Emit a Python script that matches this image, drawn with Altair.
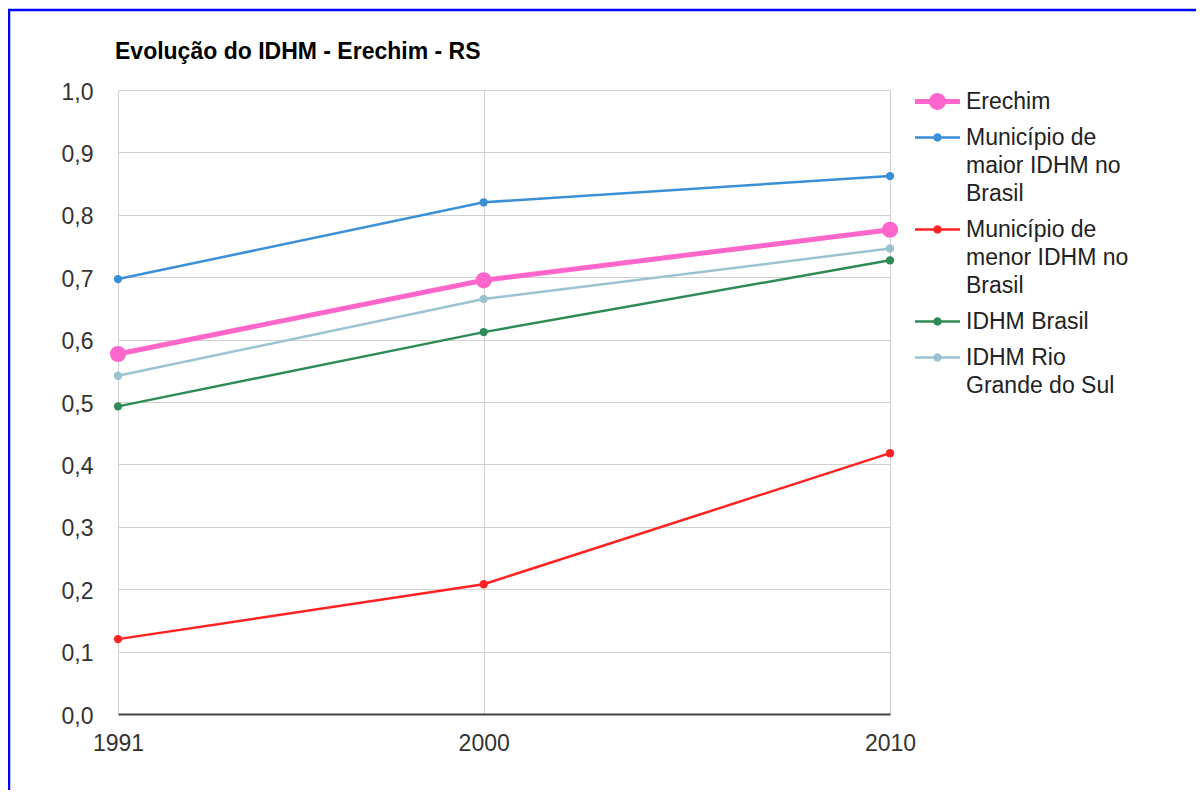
import altair as alt
import pandas as pd

# ---------------- data ----------------
YEARS = [1991, 2000, 2010]
SERIES = [
    "Erechim",
    "Município de maior IDHM no Brasil",
    "Município de menor IDHM no Brasil",
    "IDHM Brasil",
    "IDHM Rio Grande do Sul",
]
LEGEND_LINES = [
    ["Erechim"],
    ["Município de", "maior IDHM no", "Brasil"],
    ["Município de", "menor IDHM no", "Brasil"],
    ["IDHM Brasil"],
    ["IDHM Rio", "Grande do Sul"],
]
ERECHIM = [0.577, 0.695, 0.776]
MAIOR = [0.697, 0.820, 0.862]
MENOR = [0.120, 0.208, 0.418]
BRASIL = [0.493, 0.612, 0.727]
RIO_GRANDE_DO_SUL = [0.542, 0.665, 0.746]
COLORS = ["#ff66cc", "#3a8fd6", "#ff2222", "#2e8b57", "#9bc3cf"]
Y_TICKS = [0.0, 0.1, 0.2, 0.3, 0.4, 0.5, 0.6, 0.7, 0.8, 0.9, 1.0]
X_TICKS = [1991, 2000, 2010]
TITLE = "Evolução do IDHM - Erechim - RS"

VALUES = [ERECHIM, MAIOR, MENOR, BRASIL, RIO_GRANDE_DO_SUL]
rows = []
for name, vals in zip(SERIES, VALUES):
    for yr, v in zip(YEARS, vals):
        rows.append({"ano": yr, "idhm": v, "series": name})
df = pd.DataFrame(rows)

FONT = "Liberation Sans, Arial, sans-serif"
W, H = 772, 624
LINE_H = 28
SYM_PX = 45.0
U = SYM_PX / 2.0  # pixels per path unit


def circle(r, cy):
    k = 0.5523 * r
    return (
        f"M{r:.4f},{cy:.4f}"
        f"C{r:.4f},{cy + k:.4f} {k:.4f},{cy + r:.4f} 0,{cy + r:.4f}"
        f"C{-k:.4f},{cy + r:.4f} {-r:.4f},{cy + k:.4f} {-r:.4f},{cy:.4f}"
        f"C{-r:.4f},{cy - k:.4f} {-k:.4f},{cy - r:.4f} 0,{cy - r:.4f}"
        f"C{k:.4f},{cy - r:.4f} {r:.4f},{cy - k:.4f} {r:.4f},{cy:.4f}Z"
    )


def legend_symbol(thick_px, radius_px):
    h = thick_px / 2.0 / U
    r = radius_px / U
    rect = f"M-1,{-h:.4f}H1V{h:.4f}H-1Z"
    return rect + circle(r, 0.0)


PATHS = []
for i, lines in enumerate(LEGEND_LINES):
    if i == 0:
        PATHS.append(legend_symbol(5.0, 8.5))
    else:
        PATHS.append(legend_symbol(2.5, 4.2))

label_expr = ""
for name, lines in zip(SERIES, LEGEND_LINES):
    arr = "[" + ",".join("'" + l + "'" for l in lines) + "]"
    label_expr += f"datum.label == '{name}' ? {arr} : "
label_expr += "datum.label"

x_enc = alt.X(
    "ano:Q",
    scale=alt.Scale(domain=[1991, 2010], nice=False, zero=False),
    axis=alt.Axis(
        values=X_TICKS, format="d", title=None, grid=True, ticks=False,
        domain=True, domainColor="#444444", domainWidth=2,
        labelPadding=18, labelFlush=False, labelOverlap=False,
    ),
)
y_enc = alt.Y(
    "idhm:Q",
    scale=alt.Scale(domain=[0, 1], nice=False),
    axis=alt.Axis(
        values=Y_TICKS, title=None, grid=True, ticks=False, domain=False,
        labelPadding=25, labelOffset=2,
        labelExpr="replace(format(datum.value, '.1f'), '.', ',')",
    ),
)

base = alt.Chart(df)

# draw order: other series first, Erechim on top
layers = []
order = [1, 2, 3, 4, 0]
for i in order:
    name = SERIES[i]
    sub = base.transform_filter(alt.datum.series == name)
    if i == 0:
        lw, ps = 5.0, 260
    else:
        lw, ps = 2.5, 70
    layers.append(sub.mark_line(strokeWidth=lw, color=COLORS[i]).encode(x=x_enc, y=y_enc))
    layers.append(sub.mark_point(filled=True, opacity=1, size=ps, color=COLORS[i]).encode(x=x_enc, y=y_enc))

leg = alt.Legend(
    title=None, orient="none", legendX=797, legendY=-11, padding=0,
    symbolSize=SYM_PX * SYM_PX, symbolStrokeWidth=0, symbolOpacity=1,
    labelFont=FONT, labelFontSize=23, labelColor="#222222",
    labelOffset=6, labelBaseline="middle", rowPadding=1, labelLimit=300,
    labelExpr=label_expr,
)
legend_layer = base.transform_filter("false").mark_point(filled=True, opacity=1).encode(
    x=x_enc, y=y_enc,
    color=alt.Color("series:N", scale=alt.Scale(domain=SERIES, range=COLORS), legend=leg),
    shape=alt.Shape("series:N", scale=alt.Scale(domain=SERIES, range=PATHS), legend=leg),
)
layers.append(legend_layer)

frame = alt.Chart(alt.Data(values=[{"k": 1}])).mark_rect(
    fillOpacity=0, stroke="#0000ff", strokeWidth=2.5
).encode(
    x=alt.value(-109), x2=alt.value(W + 400),
    y=alt.value(-80), y2=alt.value(H + 300),
)
layers.append(frame)

chart = alt.layer(*layers).properties(
    width=W, height=H,
    autosize=alt.AutoSizeParams(type="none"),
    padding={"left": 110, "top": 82, "right": 306, "bottom": 76},
    title=alt.Title(
        TITLE, anchor="start", frame="group", font=FONT, fontSize=23, fontWeight="bold",
        color="#000000", offset=-78, baseline="bottom", dx=-3,
    ),
).configure(
    background="white",
    style={"guide-label": {"lineHeight": LINE_H}},
).configure_view(
    stroke=None
).configure_axis(
    labelFont=FONT, labelFontSize=23, labelColor="#333333",
    gridColor="#d0d0d0", gridWidth=1,
)

chart.save("out.html", embed_options={"renderer": "svg", "actions": False})
